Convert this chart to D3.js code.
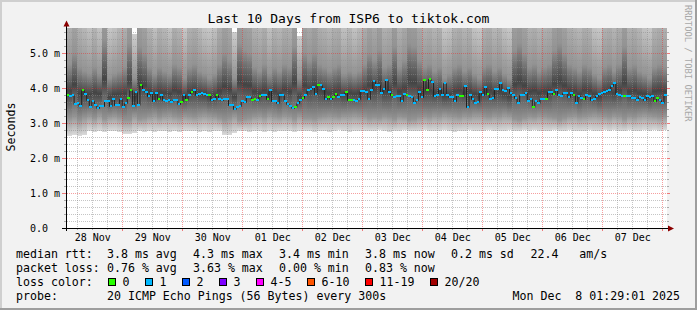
<!DOCTYPE html>
<html><head><meta charset="utf-8">
<script src="https://cdn.jsdelivr.net/npm/d3@7"></script>
<style>
html,body{margin:0;padding:0;background:#f2f2f2;}
svg{display:block;font-family:"DejaVu Sans Mono",monospace;}
</style>
</head><body>
<svg id="c" width="697" height="310"></svg>
<script>
// ---------------- DATA ----------------
const titleText = "Last 10 Days from ISP6 to tiktok.com";
const yAxisTitle = "Seconds";
const watermark = "RRDTOOL / TOBI OETIKER";
const endTime = Date.UTC(2025, 11, 8, 1, 29, 1);
const spanDays = 10;
const yMajorTicks = [0, 1, 2, 3, 4, 5];
const yMajorLabels = ["0.0", "1.0 m", "2.0 m", "3.0 m", "4.0 m", "5.0 m"];
const yMinorStep = 0.2;

// median rtt (ms), roughly hourly
const medianRtt = [
 3.81,3.76,3.79,3.54,3.57,3.50,3.95,3.84,3.65,3.47,
 3.64,3.52,3.43,3.50,3.50,3.64,3.62,3.50,3.68,3.52,
 3.52,3.68,3.46,3.57,3.72,3.94,3.50,3.90,3.52,4.09,
 3.93,3.90,3.76,3.86,3.64,3.86,3.69,3.79,3.65,3.62,
 3.65,3.59,3.65,3.65,3.54,3.59,3.79,3.65,3.81,3.90,
 3.95,3.79,3.84,3.86,3.84,3.79,3.79,3.65,3.69,3.79,
 3.69,3.67,3.68,3.69,3.52,3.52,3.40,3.45,3.48,3.62,
 3.60,3.74,3.74,3.67,3.69,3.65,3.78,3.81,3.79,3.68,
 3.93,3.62,3.62,3.57,3.81,3.79,3.62,3.54,3.50,3.43,
 3.46,3.57,3.67,3.71,3.81,3.95,3.98,4.02,3.83,4.08,
 4.08,3.98,3.69,3.73,3.69,3.73,3.84,3.75,3.79,3.81,
 3.90,3.65,3.65,3.65,3.62,3.68,3.92,3.92,3.90,
 3.69,3.93,4.19,4.09,4.08,3.86,3.98,4.22,3.90,3.79,
 3.73,3.76,3.76,3.64,3.84,3.79,3.76,3.73,3.57,3.65,
 3.90,3.73,4.22,3.93,4.27,4.17,3.76,3.79,3.98,3.79,
 4.14,3.79,3.74,3.73,3.64,3.79,3.76,3.76,4.05,3.46,
 3.81,3.69,3.57,3.59,3.90,3.81,4.03,3.84,3.69,3.71,
 3.97,3.98,4.14,3.95,3.92,4.00,3.86,3.81,3.71,
 3.57,3.81,3.81,3.86,3.64,3.69,3.46,3.64,3.57,3.69,
 3.69,3.69,3.90,3.90,3.84,3.95,3.79,3.76,3.86,3.86,
 3.73,3.86,3.81,3.57,3.76,3.71,3.68,3.79,3.76,3.67,
 3.69,3.76,3.83,3.86,3.90,3.92,3.95,4.05,4.14,3.84,
 3.79,3.76,3.76,3.76,3.76,3.71,3.71,3.67,3.73,3.71,
 3.67,3.76,3.73,3.76,3.64,3.71,3.67,3.57,3.81
];
// loss colour class per median point (0 = "0", 1 = "1")
const lossClass = [
 0,1,1,1,1,1,0,1,1,1, 1,1,1,1,1,1,1,1,1,1, 1,1,1,1,0,0,1,1,1,0,
 1,1,1,1,1,1,0,1,1,1, 1,1,1,1,1,0,1,0,1,0, 1,1,1,1,1,1,0,1,1,0,
 1,1,1,1,1,1,1,1,1,1, 1,1,1,0,0,1,0,1,1,0, 1,1,1,1,1,1,1,1,1,1,
 0,1,1,0,1,1,1,1,1,0, 1,1,1,0,1,0,0,1,1,1, 0,0,0,1,1,1,1,1,1,
 1,1,1,1,1,1,1,1,1,0, 1,1,1,1,1,0,1,1,1,1, 1,1,0,0,0,1,1,1,1,1,
 1,1,1,1,1,1,0,0,1,1, 1,1,1,1,1,1,1,0,1,1, 1,1,1,1,1,1,1,1,1,
 1,1,1,1,1,1,0,1,1,1, 1,0,1,1,0,1,1,1,1,1, 1,1,0,1,1,1,0,1,1,1,
 1,1,1,1,1,1,1,1,1,1, 1,1,0,1,1,1,1,1,1,1, 1,1,1,1,0,0,1,1,1
];

// smoke (ping spread), 2-hour columns, ms
const smokeMin = [
 2.64,2.65,2.63,2.66,2.76,2.75,2.77,2.74,2.76,2.78,2.75,2.70,
 2.68,2.72,2.76,2.74,2.77,2.75,2.76,2.78,2.74,2.76,2.75,2.77,
 2.76,2.78,2.75,2.77,2.74,2.76,2.78,2.66,2.65,2.72,2.76,2.77,
 2.75,2.78,2.76,2.74,2.77,2.75,2.78,2.76,2.77,2.74,2.78,2.76,
 2.77,2.75,2.78,2.76,2.74,2.77,2.79,2.76,2.75,2.77,2.78,2.76,
 2.78,2.76,2.79,2.77,2.75,2.78,2.76,2.79,2.77,2.78,2.76,2.79,
 2.77,2.78,2.76,2.79,2.77,2.75,2.78,2.76,2.79,2.77,2.78,2.76,
 2.79,2.77,2.78,2.76,2.79,2.77,2.78,2.80,2.77,2.79,2.76,2.78,
 2.77,2.79,2.78,2.76,2.79,2.77,2.78,2.76,2.79,2.77,2.78,2.80,
 2.77,2.79,2.78,2.76,2.79,2.77,2.78,2.79,2.77,2.80,2.78,2.79
];
const smokeLowQ = [
 3.15,3.20,3.10,3.18,3.22,3.15,3.25,3.12,3.20,3.24,3.18,3.10,
 3.08,3.22,3.12,3.15,3.20,3.25,3.18,3.22,3.26,3.20,3.17,3.24,
 3.20,3.18,3.22,3.26,3.24,3.20,3.15,3.10,3.14,3.22,3.10,3.12,
 3.15,3.20,3.22,3.18,3.25,3.20,3.18,3.22,3.20,3.12,3.24,3.15,
 3.14,3.12,3.18,3.20,3.22,3.20,3.18,3.24,3.22,3.26,3.22,3.20,
 3.15,3.18,3.14,3.20,3.18,3.12,3.20,3.16,3.10,3.12,3.18,3.20,
 3.18,3.22,3.20,3.26,3.24,3.20,3.18,3.22,3.20,3.25,3.26,3.20,
 3.18,3.22,3.20,3.25,3.24,3.12,3.10,3.14,3.20,3.18,3.22,3.20,
 3.18,3.14,3.10,3.15,3.20,3.22,3.18,3.20,3.22,3.26,3.24,3.20,
 3.18,3.22,3.20,3.12,3.20,3.18,3.22,3.26,3.24,3.20,3.18,3.20
];
const smokeHighQ = [
 4.7,5.0,4.6,4.5,4.4,4.6,4.4,5.4,4.3,4.4,4.5,4.6,
 5.3,4.3,5.2,5.0,4.6,4.4,4.6,4.5,4.4,4.7,4.6,4.3,
 4.6,4.7,4.5,4.4,4.3,4.4,4.7,5.0,4.8,4.3,5.3,5.1,
 5.0,4.6,4.5,4.7,4.4,4.6,4.5,4.7,4.6,5.2,4.3,5.0,
 4.8,5.0,4.7,4.6,4.5,4.6,4.7,4.4,4.5,4.4,4.5,4.7,
 5.0,4.8,5.1,4.6,4.7,5.2,4.6,4.8,5.3,5.2,4.8,4.6,
 4.7,4.5,4.6,4.3,4.4,4.6,4.7,4.5,4.6,4.4,4.3,4.6,
 4.7,4.5,4.6,4.4,4.3,5.1,5.3,5.0,4.6,4.7,4.5,4.6,
 4.7,5.1,5.3,5.0,4.7,4.6,4.5,4.7,4.6,4.4,4.3,4.6,
 4.7,4.5,4.7,5.2,4.6,4.7,4.5,4.4,4.3,4.6,4.7,4.6
];
const smokeMax = [
 7.0,8.0,6.8,6.5,6.1,6.6,6.0,9.5,5.9,6.1,6.6,6.9,
 9.0,5.55,8.5,8.0,6.7,6.1,6.8,6.5,6.0,7.0,6.6,5.9,
 6.8,7.1,6.5,6.0,5.9,6.1,7.2,8.2,7.4,5.6,9.0,8.4,
 8.0,6.8,6.6,7.0,6.1,6.7,6.5,7.0,6.8,8.8,5.5,8.0,
 7.4,8.2,7.0,6.8,6.5,6.9,7.0,6.1,6.5,6.0,6.4,7.1,
 8.0,7.3,8.5,6.8,7.0,8.8,6.8,7.4,9.2,8.8,7.3,6.8,
 7.0,6.6,6.9,5.9,6.0,6.7,7.0,6.6,6.8,6.0,5.9,6.8,
 7.1,6.5,6.7,6.1,5.9,8.4,9.0,8.0,6.8,7.0,6.6,6.9,
 7.1,8.5,9.0,8.1,7.0,6.7,6.5,7.0,6.8,6.0,5.9,6.8,
 7.0,6.6,7.1,8.8,6.8,7.0,6.6,6.0,5.9,6.7,7.0,6.8
];

const rttLabel = "median rtt:";
const rttStats = ["3.8 ms avg", "4.3 ms max", "3.4 ms min", "3.8 ms now", "0.2 ms sd", "22.4   am/s"];
const lossLabel = "packet loss:";
const lossStats = ["0.76 % avg", "3.63 % max", "0.00 % min", "0.83 % now"];
const lossColorLabel = "loss color:";
const lossLegend = ["0", "1", "2", "3", "4-5", "6-10", "11-19", "20/20"];
const probeLabel = "probe:";
const probeText = "20 ICMP Echo Pings (56 Bytes) every 300s";
const dateText = "Mon Dec  8 01:29:01 2025";

// ---------------- STYLE ----------------
const lossColors = ["#26ff00", "#00b8ff", "#0059ff", "#7e00ff", "#ff00ff", "#ff5500", "#ff0000", "#a10000"];
const W = 697, H = 310;
const X0 = 66.5, X1 = 666.5, Y0 = 228.5, Y1 = 28.5;
const font = "DejaVu Sans Mono";

const svg = d3.select("#c");
svg.append("rect").attr("width", W).attr("height", H).attr("fill", "#f2f2f2");
svg.append("rect").attr("x", 0).attr("y", 0).attr("width", W).attr("height", 2).attr("fill", "#cfcfcf");
svg.append("rect").attr("x", 0).attr("y", 0).attr("width", 2).attr("height", H).attr("fill", "#cfcfcf");
svg.append("rect").attr("x", 0).attr("y", H - 2).attr("width", W).attr("height", 2).attr("fill", "#9e9e9e");
svg.append("rect").attr("x", W - 2).attr("y", 0).attr("width", 2).attr("height", H).attr("fill", "#9e9e9e");

const startTime = endTime - spanDays * 86400e3;
const x = d3.scaleUtc().domain([startTime, endTime]).range([X0, X1]);
const y = d3.scaleLinear().domain([0, (Y0 - Y1) / 35]).range([Y0, Y1]);

// canvas
svg.append("rect").attr("x", 67).attr("y", 28).attr("width", 600).attr("height", 200).attr("fill", "#ffffff");

const defs = svg.append("defs");
defs.append("clipPath").attr("id", "cv").append("rect")
  .attr("x", 67).attr("y", 28).attr("width", 600).attr("height", 200);
const lightLow = "#dadada", lightTop = "#cdcdcd", mid = "#939393", dark = "#444444";
function grad(id, stops) {
  const g = defs.append("linearGradient").attr("id", id).attr("x1", 0).attr("y1", 0).attr("x2", 0).attr("y2", 1);
  stops.forEach(s => g.append("stop").attr("offset", s[0]).attr("stop-color", s[1]));
}
grad("gLow", [[0, mid], [1, lightLow]]);
grad("gMid", [[0, mid], [0.5, dark], [1, mid]]);
grad("gHigh", [[0, lightTop], [1, mid]]);

const plot = svg.append("g").attr("clip-path", "url(#cv)");

// smoke
const nS = smokeMin.length;
const sSpan = (endTime - startTime) / nS;
const smoke = smokeMin.map((lo, i) => ({
  t0: startTime + i * sSpan, t1: startTime + (i + 1) * sSpan,
  lo, q1: smokeLowQ[i], q3: smokeHighQ[i], hi: smokeMax[i]
}));
const sg = plot.append("g").attr("shape-rendering", "crispEdges");
function bands(key0, key1, fill) {
  sg.selectAll(null).data(smoke).join("rect")
    .attr("x", d => Math.round(x(d.t0)))
    .attr("width", d => Math.round(x(d.t1)) - Math.round(x(d.t0)))
    .attr("y", d => Math.round(y(d[key1]) - 0.5))
    .attr("height", d => Math.round(y(d[key0]) - 0.5) - Math.round(y(d[key1]) - 0.5))
    .attr("fill", fill);
}
bands("lo", "q1", "url(#gLow)");
bands("q1", "q3", "url(#gMid)");
bands("q3", "hi", "url(#gHigh)");

// grid
const grid = svg.append("g");
const minorV = d3.utcHour.every(6).range(new Date(startTime), new Date(endTime)).filter(d => d.getUTCHours() !== 0);
const majorV = d3.utcDay.range(new Date(startTime), new Date(endTime + 1));
const px = v => Math.floor(x(v)) + 0.5;
grid.selectAll(null).data(minorV).join("line")
  .attr("x1", px).attr("x2", px).attr("y1", 28).attr("y2", 228)
  .attr("stroke", "rgba(140,140,140,0.5)").attr("stroke-dasharray", "1,1");
grid.selectAll(null).data(minorV).join("line")
  .attr("x1", px).attr("x2", px).attr("y1", 228).attr("y2", 230)
  .attr("stroke", "rgba(140,140,140,0.7)");
grid.selectAll(null).data(majorV).join("line")
  .attr("x1", px).attr("x2", px).attr("y1", 28).attr("y2", 228)
  .attr("stroke", "rgba(235,40,40,0.45)").attr("stroke-dasharray", "1,1");
grid.selectAll(null).data(majorV).join("line")
  .attr("x1", px).attr("x2", px).attr("y1", 228).attr("y2", 231)
  .attr("stroke", "rgba(235,40,40,0.6)");
const minorH = d3.range(1, 29).map(k => k * yMinorStep).filter(v => Math.abs(v - Math.round(v)) > 1e-6);
const py = v => Math.round(y(v) - 0.5) + 0.5;
grid.selectAll(null).data(minorH).join("line")
  .attr("x1", 67).attr("x2", 667).attr("y1", py).attr("y2", py)
  .attr("stroke", "rgba(140,140,140,0.5)").attr("stroke-dasharray", "1,1");
grid.selectAll(null).data(minorH).join("path")
  .attr("d", v => `M64,${py(v)}H66M667,${py(v)}H669`)
  .attr("stroke", "rgba(140,140,140,0.7)");
grid.selectAll(null).data(yMajorTicks.slice(1)).join("line")
  .attr("x1", 67).attr("x2", 667).attr("y1", py).attr("y2", py)
  .attr("stroke", "rgba(235,40,40,0.45)").attr("stroke-dasharray", "1,1");
grid.selectAll(null).data(yMajorTicks.slice(1)).join("path")
  .attr("d", v => `M62,${py(v)}H66M667,${py(v)}H670`)
  .attr("stroke", "rgba(235,40,40,0.6)");

// median
const nM = medianRtt.length;
const mSpan = (endTime - startTime) / nM;
const med = medianRtt.map((v, i) => ({ t0: startTime + i * mSpan, t1: startTime + (i + 1) * mSpan, v, c: lossClass[i] }));
const mg = svg.append("g").attr("clip-path", "url(#cv)");
const stepPts = med.map(d => [x(d.t0), py(d.v)]).concat([[x(endTime), py(med[nM - 1].v)]]);
mg.append("path").attr("d", d3.line().curve(d3.curveStepAfter)(stepPts))
  .attr("fill", "none").attr("stroke", "#202020").attr("stroke-width", 1);
mg.append("g").attr("shape-rendering", "crispEdges").selectAll("rect").data(med).join("rect")
  .attr("x", d => x(d.t0)).attr("width", d => x(d.t1) - x(d.t0))
  .attr("y", d => py(d.v) - 1.5).attr("height", 2)
  .attr("fill", d => lossColors[d.c]);

// axes
const ax = svg.append("g");
ax.append("line").attr("x1", 62).attr("x2", 670).attr("y1", 228.5).attr("y2", 228.5).attr("stroke", "#000");
ax.append("line").attr("x1", 66.5).attr("x2", 66.5).attr("y1", 25).attr("y2", 231).attr("stroke", "#000");
ax.append("path").attr("d", "M63.5,26.5L66.5,20.5L69.5,26.5Z").attr("fill", "#8b0000");
ax.append("path").attr("d", "M668,225.5L674,228.5L668,231.5Z").attr("fill", "#8b0000");

// y labels
svg.append("g").selectAll("text").data(yMajorTicks).join("text")
  .attr("x", 30).attr("y", v => py(v) + 3.5)
  .attr("font-family", font).attr("font-size", 10).attr("fill", "#000")
  .attr("xml:space", "preserve")
  .text((v, i) => yMajorLabels[i]);

// x labels at noon
const noons = d3.utcHour.range(new Date(startTime), new Date(endTime)).filter(d => d.getUTCHours() === 12);
const fmt = d3.utcFormat("%d %b");
svg.append("g").selectAll("text").data(noons).join("text")
  .attr("x", d => x(d)).attr("y", 241)
  .attr("text-anchor", "middle")
  .attr("font-family", font).attr("font-size", 10).attr("fill", "#000")
  .text(d => fmt(d));

// title etc.
svg.append("text").attr("x", 348.5).attr("y", 23).attr("text-anchor", "middle")
  .attr("font-family", font).attr("font-size", 13).attr("fill", "#000").text(titleText);
svg.append("text").attr("transform", "translate(15,127) rotate(-90)").attr("text-anchor", "middle")
  .attr("font-family", font).attr("font-size", 11.6).attr("fill", "#000").text(yAxisTitle);
svg.append("text").attr("transform", "translate(684.5,5) rotate(90)")
  .attr("font-family", font).attr("font-size", 8.8).attr("fill", "#a8a8a8").text(watermark);

// legend
const lg = svg.append("g").attr("font-family", font).attr("font-size", 11.6).attr("fill", "#000");
const statX = [107, 193, 279, 365, 451, 530.5];
function txt(xp, yp, s) { lg.append("text").attr("x", xp).attr("y", yp).attr("xml:space", "preserve").text(s); }
txt(16, 258, rttLabel);
rttStats.forEach((s, i) => txt(statX[i], 258, s));
txt(16, 272, lossLabel);
lossStats.forEach((s, i) => txt(statX[i], 272, s));
txt(16, 286, lossColorLabel);
const boxX = [108.5, 145.5, 182.5, 219.5, 256.5, 307.5, 365.5, 430.5];
lossLegend.forEach((s, i) => {
  lg.append("rect").attr("x", boxX[i]).attr("y", 278.5).attr("width", 7).attr("height", 7)
    .attr("fill", lossColors[i]).attr("stroke", "#000").attr("stroke-width", 1);
  txt(boxX[i] + 14, 286, s);
});
txt(16, 300, probeLabel);
txt(107, 300, probeText);
txt(512.5, 300, dateText);
</script>
</body></html>
